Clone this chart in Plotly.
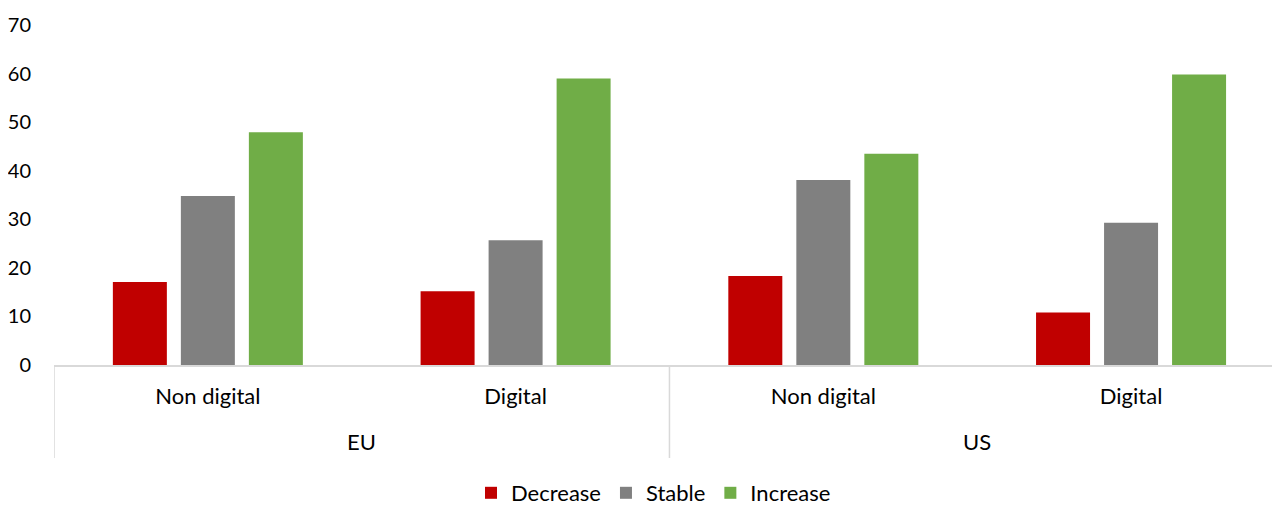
import plotly.graph_objects as go

regions = ["EU", "EU", "US", "US"]
types = ["Non digital", "Digital", "Non digital", "Digital"]
decrease = [17.1, 15.2, 18.3, 10.8]
stable = [34.8, 25.7, 38.1, 29.3]
increase = [47.9, 59.0, 43.5, 59.8]
y_ticks = [0, 10, 20, 30, 40, 50, 60, 70]

series = [
    ("Decrease", decrease, "#C00000"),
    ("Stable", stable, "#808080"),
    ("Increase", increase, "#70AD47"),
]

FONT = "Lato"
keys = [f"{r} {t}" for r, t in zip(regions, types)]

fig = go.Figure()
for name, vals, color in series:
    fig.add_trace(go.Bar(
        x=keys, y=vals, name=name,
        marker=dict(color=color, line=dict(width=0)),
    ))

# region group labels and dividers (positions derived from category indices)
groups = []
for i, r in enumerate(regions):
    if not groups or groups[-1][0] != r:
        groups.append([r, i, i])
    else:
        groups[-1][2] = i

PLOT_H = 340.0
div_bottom = -93 / PLOT_H
grp_label_y = -76 / PLOT_H
divider_pos = [g[1] - 0.5 for g in groups] + [groups[-1][2] + 0.5]
for xp in divider_pos:
    fig.add_shape(type="line", xref="x", yref="paper", x0=xp, x1=xp, y0=0, y1=div_bottom,
                  line=dict(color="#D9D9D9", width=1.5), layer="below")
for r, i0, i1 in groups:
    fig.add_annotation(x=(i0 + i1) / 2, xref="x", y=grp_label_y, yref="paper",
                       text=r, showarrow=False, yanchor="middle",
                       font=dict(family=FONT, size=22, color="#000000"))

fig.update_layout(
    width=1272, height=497,
    barmode="group", bargap=0.337, bargroupgap=0.206,
    plot_bgcolor="white", paper_bgcolor="white",
    font=dict(family=FONT, size=20, color="#000000"),
    margin=dict(l=46, r=0, t=17, b=140, autoexpand=False),
    showlegend=True,
    legend=dict(orientation="h", x=0.489, xanchor="center", y=-128 / PLOT_H, yanchor="middle",
                font=dict(size=22), traceorder="normal", itemwidth=30),
    xaxis=dict(
        type="category", automargin=False,
        range=[-0.5, 3.484],
        tickmode="array", tickvals=keys, ticktext=types,
        showline=True, linecolor="#D9D9D9", linewidth=1.5,
        showgrid=False, ticks="", ticklabelstandoff=11,
        tickfont=dict(size=22),
    ),
    yaxis=dict(
        range=[0, 70], tickvals=y_ticks, showgrid=False, showline=False, zeroline=False,
        automargin=False,
        ticks="", ticklabelstandoff=22, tickfont=dict(size=20),
    ),
)

fig.write_html("out.html")
